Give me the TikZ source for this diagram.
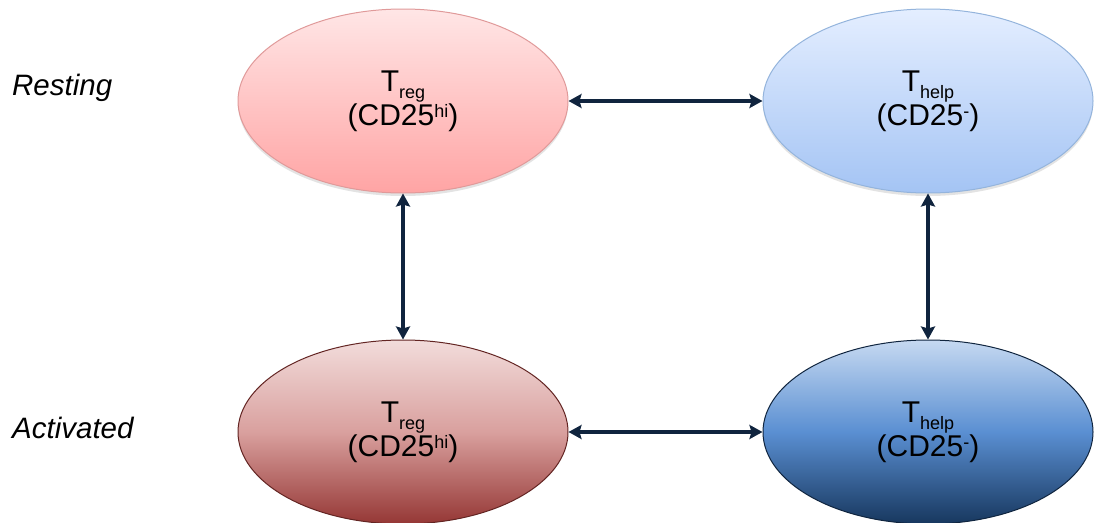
\documentclass[tikz,border=0pt]{standalone}
\usepackage{fontspec}
\setmainfont{Liberation Sans}
\usetikzlibrary{arrows.meta,shadows,shapes.geometric}
\definecolor{arrowc}{HTML}{10243E}
\definecolor{rlTop}{HTML}{FFE6E6}
\definecolor{rlBot}{HTML}{FFA4A4}
\definecolor{rlBor}{HTML}{E09A9A}
\definecolor{blTop}{HTML}{E4EEFF}
\definecolor{blBot}{HTML}{A4C4F4}
\definecolor{blBor}{HTML}{94B4DC}
\definecolor{rdTop}{HTML}{F2DCDB}
\definecolor{rdMid}{HTML}{D9A09E}
\definecolor{rdBot}{HTML}{953735}
\definecolor{rdBor}{HTML}{632523}
\definecolor{bdTop}{HTML}{C6D9F1}
\definecolor{bdMid}{HTML}{5A8FD2}
\definecolor{bdBot}{HTML}{17375E}
\definecolor{bdBor}{HTML}{10253F}
\newcommand{\subtxt}[1]{\raisebox{-7pt}{\fontsize{18}{18}\selectfont #1}}
\newcommand{\suptxt}[1]{\raisebox{8pt}{\fontsize{18}{18}\selectfont #1}}
\tikzset{
  cell/.style={ellipse, minimum width=330pt, minimum height=184pt, inner sep=0pt,
    align=center, line width=1pt, font=\fontsize{30}{34}\selectfont},
  soft/.style={drop shadow={opacity=0.22, shadow xshift=0pt, shadow yshift=-3pt}},
  link/.style={arrowc, line width=3.6pt,
    {Stealth[length=13pt,width=14pt,inset=2pt]}-{Stealth[length=13pt,width=14pt,inset=2pt]}},
  rowlabel/.style={anchor=base west, inner sep=0pt, font=\fontsize{29.5}{34}\selectfont\itshape}
}
\begin{document}
\begin{tikzpicture}[x=1pt,y=1pt]
\useasboundingbox (0,0) rectangle (1094,-522);
\node[cell, soft, draw=rlBor, top color=rlTop, bottom color=rlBot] (tl) at (403,-101)
  {T\subtxt{reg}\\(CD25\suptxt{hi})};
\node[cell, soft, draw=blBor, top color=blTop, bottom color=blBot] (tr) at (928,-101)
  {T\subtxt{help}\\(CD25\suptxt{-})};
\node[cell, draw=rdBor, top color=rdTop, bottom color=rdBot, middle color=rdMid] (bl) at (403,-432)
  {T\subtxt{reg}\\(CD25\suptxt{hi})};
\node[cell, draw=bdBor, top color=bdTop, bottom color=bdBot, middle color=bdMid] (br) at (928,-432)
  {T\subtxt{help}\\(CD25\suptxt{-})};
\node[rowlabel] (rest) at (12,-95) {Resting};
\node[rowlabel] (act) at (12,-438) {Activated};
\draw[link] (tl.east) -- (tr.west);
\draw[link] (bl.east) -- (br.west);
\draw[link] (tl.south) -- (bl.north);
\draw[link] (tr.south) -- (br.north);
\end{tikzpicture}
\end{document}
